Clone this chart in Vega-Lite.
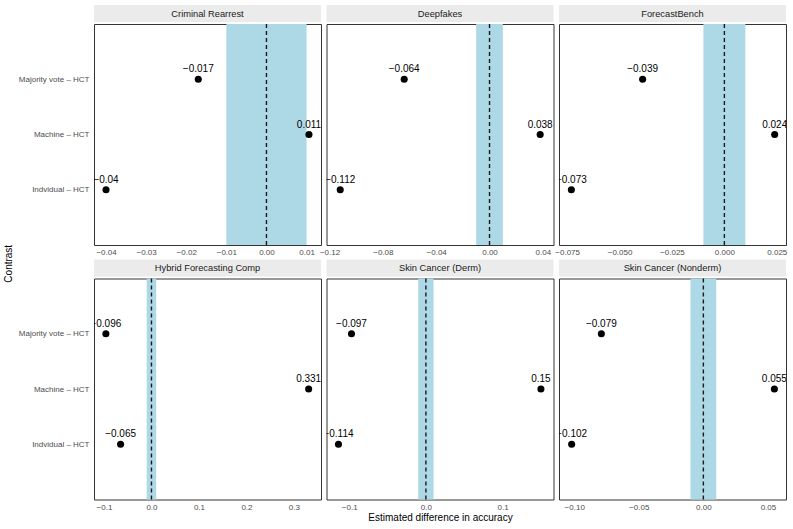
{
  "$schema": "https://vega.github.io/schema/vega-lite/v6.json",
  "padding": {"left": 3, "top": 5, "right": 5, "bottom": 5},
  "background": "white",
  "title": {"text": "Contrast", "orient": "left", "anchor": "middle", "fontSize": 10, "fontWeight": "normal", "color": "#000000", "offset": 4, "font": "Liberation Sans"},
  "spacing": 2.5,
  "datasets": {
    "points": [
      {"panel": "Criminal Rearrest", "contrast": "Majority vote – HCT", "estimate": -0.017},
      {"panel": "Criminal Rearrest", "contrast": "Machine – HCT", "estimate": 0.0106},
      {"panel": "Criminal Rearrest", "contrast": "Indvidual – HCT", "estimate": -0.04},
      {"panel": "Deepfakes", "contrast": "Majority vote – HCT", "estimate": -0.064},
      {"panel": "Deepfakes", "contrast": "Machine – HCT", "estimate": 0.038},
      {"panel": "Deepfakes", "contrast": "Indvidual – HCT", "estimate": -0.112},
      {"panel": "ForecastBench", "contrast": "Majority vote – HCT", "estimate": -0.039},
      {"panel": "ForecastBench", "contrast": "Machine – HCT", "estimate": 0.024},
      {"panel": "ForecastBench", "contrast": "Indvidual – HCT", "estimate": -0.073},
      {"panel": "Hybrid Forecasting Comp", "contrast": "Majority vote – HCT", "estimate": -0.096},
      {"panel": "Hybrid Forecasting Comp", "contrast": "Machine – HCT", "estimate": 0.331},
      {"panel": "Hybrid Forecasting Comp", "contrast": "Indvidual – HCT", "estimate": -0.065},
      {"panel": "Skin Cancer (Derm)", "contrast": "Majority vote – HCT", "estimate": -0.097},
      {"panel": "Skin Cancer (Derm)", "contrast": "Machine – HCT", "estimate": 0.15},
      {"panel": "Skin Cancer (Derm)", "contrast": "Indvidual – HCT", "estimate": -0.114},
      {"panel": "Skin Cancer (Nonderm)", "contrast": "Majority vote – HCT", "estimate": -0.079},
      {"panel": "Skin Cancer (Nonderm)", "contrast": "Machine – HCT", "estimate": 0.055},
      {"panel": "Skin Cancer (Nonderm)", "contrast": "Indvidual – HCT", "estimate": -0.102}
    ],
    "panels": [
      {"panel": "Criminal Rearrest", "lo": -0.01, "hi": 0.01, "zero": 0},
      {"panel": "Deepfakes", "lo": -0.01, "hi": 0.01, "zero": 0},
      {"panel": "ForecastBench", "lo": -0.01, "hi": 0.01, "zero": 0},
      {"panel": "Hybrid Forecasting Comp", "lo": -0.01, "hi": 0.01, "zero": 0},
      {"panel": "Skin Cancer (Derm)", "lo": -0.01, "hi": 0.01, "zero": 0},
      {"panel": "Skin Cancer (Nonderm)", "lo": -0.01, "hi": 0.01, "zero": 0}
    ]
  },
  "config": {
    "font": "Liberation Sans",
    "axis": {
      "labelFont": "Liberation Sans",
      "labelFontSize": 8,
      "labelColor": "#4D4D4D",
      "ticks": false,
      "domain": false,
      "grid": false,
      "labelFlush": false,
      "labelOverlap": false,
      "titleFont": "Liberation Sans",
      "titleFontSize": 10,
      "titleFontWeight": "normal",
      "titleColor": "#000000"
    },
    "axisX": {"labelPadding": 3.5},
    "axisY": {"labelPadding": 5}
  },
  "vconcat": [
    {
      "spacing": 0,
      "vconcat": [
        {
          "bounds": "flush",
          "spacing": 5.5,
          "hconcat": [
            {
              "width": 227, "height": 17,
              "view": {"fill": "#EBEBEB", "stroke": null},
              "data": {"name": "panels"},
              "transform": [{"filter": "datum.panel === 'Criminal Rearrest'"}],
              "mark": {"type": "text", "fontSize": 9.3, "color": "#1A1A1A"},
              "encoding": {"text": {"field": "panel", "type": "nominal"}}
            },
            {
              "width": 227, "height": 17,
              "view": {"fill": "#EBEBEB", "stroke": null},
              "data": {"name": "panels"},
              "transform": [{"filter": "datum.panel === 'Deepfakes'"}],
              "mark": {"type": "text", "fontSize": 9.3, "color": "#1A1A1A"},
              "encoding": {"text": {"field": "panel", "type": "nominal"}}
            },
            {
              "width": 227, "height": 17,
              "view": {"fill": "#EBEBEB", "stroke": null},
              "data": {"name": "panels"},
              "transform": [{"filter": "datum.panel === 'ForecastBench'"}],
              "mark": {"type": "text", "fontSize": 9.3, "color": "#1A1A1A"},
              "encoding": {"text": {"field": "panel", "type": "nominal"}}
            }
          ]
        },
        {
          "bounds": "flush",
          "spacing": 5.5,
          "hconcat": [
            {
              "width": 227, "height": 221,
              "view": {"stroke": "#333333", "strokeWidth": 1},
              "layer": [
                {
                  "data": {"name": "panels"},
                  "transform": [{"filter": "datum.panel === 'Criminal Rearrest'"}],
                  "mark": {"type": "rect", "color": "#ADD8E6"},
                  "encoding": {
                    "x": {"field": "lo", "type": "quantitative",
                      "scale": {"domain": [-0.043, 0.0136], "nice": false, "zero": false},
                      "axis": {"values": [-0.04, -0.03, -0.02, -0.01, 0, 0.01], "format": ".2f", "title": null}},
                    "x2": {"field": "hi"}
                  }
                },
                {
                  "data": {"name": "panels"},
                  "transform": [{"filter": "datum.panel === 'Criminal Rearrest'"}],
                  "mark": {"type": "rule", "strokeDash": [4, 3], "strokeWidth": 1.4, "color": "#1A1A1A"},
                  "encoding": {"x": {"field": "zero", "type": "quantitative"}}
                },
                {
                  "data": {"name": "points"},
                  "transform": [{"filter": "datum.panel === 'Criminal Rearrest'"}],
                  "mark": {"type": "point", "filled": true, "color": "#000000", "opacity": 1, "size": 50},
                  "encoding": {
                    "x": {"field": "estimate", "type": "quantitative"},
                    "y": {"field": "contrast", "type": "nominal",
                      "scale": {"type": "point", "padding": 1, "domain": ["Majority vote – HCT", "Machine – HCT", "Indvidual – HCT"]},
                      "axis": {"title": null}}
                  }
                },
                {
                  "data": {"name": "points"},
                  "transform": [{"filter": "datum.panel === 'Criminal Rearrest'"}],
                  "mark": {"type": "text", "fontSize": 10, "color": "#000000", "baseline": "alphabetic", "dy": -7, "clip": true},
                  "encoding": {
                    "x": {"field": "estimate", "type": "quantitative"},
                    "y": {"field": "contrast", "type": "nominal"},
                    "text": {"field": "estimate", "type": "quantitative", "format": ".3~f"}
                  }
                }
              ]
            },
            {
              "width": 227, "height": 221,
              "view": {"stroke": "#333333", "strokeWidth": 1},
              "layer": [
                {
                  "data": {"name": "panels"},
                  "transform": [{"filter": "datum.panel === 'Deepfakes'"}],
                  "mark": {"type": "rect", "color": "#ADD8E6"},
                  "encoding": {
                    "x": {"field": "lo", "type": "quantitative",
                      "scale": {"domain": [-0.1223, 0.048], "nice": false, "zero": false},
                      "axis": {"values": [-0.12, -0.08, -0.04, 0, 0.04], "format": ".2f", "title": null}},
                    "x2": {"field": "hi"}
                  }
                },
                {
                  "data": {"name": "panels"},
                  "transform": [{"filter": "datum.panel === 'Deepfakes'"}],
                  "mark": {"type": "rule", "strokeDash": [4, 3], "strokeWidth": 1.4, "color": "#1A1A1A"},
                  "encoding": {"x": {"field": "zero", "type": "quantitative"}}
                },
                {
                  "data": {"name": "points"},
                  "transform": [{"filter": "datum.panel === 'Deepfakes'"}],
                  "mark": {"type": "point", "filled": true, "color": "#000000", "opacity": 1, "size": 50},
                  "encoding": {
                    "x": {"field": "estimate", "type": "quantitative"},
                    "y": {"field": "contrast", "type": "nominal",
                      "scale": {"type": "point", "padding": 1, "domain": ["Majority vote – HCT", "Machine – HCT", "Indvidual – HCT"]},
                      "axis": null}
                  }
                },
                {
                  "data": {"name": "points"},
                  "transform": [{"filter": "datum.panel === 'Deepfakes'"}],
                  "mark": {"type": "text", "fontSize": 10, "color": "#000000", "baseline": "alphabetic", "dy": -7, "clip": true},
                  "encoding": {
                    "x": {"field": "estimate", "type": "quantitative"},
                    "y": {"field": "contrast", "type": "nominal"},
                    "text": {"field": "estimate", "type": "quantitative", "format": ".3~f"}
                  }
                }
              ]
            },
            {
              "width": 227, "height": 221,
              "view": {"stroke": "#333333", "strokeWidth": 1},
              "layer": [
                {
                  "data": {"name": "panels"},
                  "transform": [{"filter": "datum.panel === 'ForecastBench'"}],
                  "mark": {"type": "rect", "color": "#ADD8E6"},
                  "encoding": {
                    "x": {"field": "lo", "type": "quantitative",
                      "scale": {"domain": [-0.0789, 0.0294], "nice": false, "zero": false},
                      "axis": {"values": [-0.075, -0.05, -0.025, 0, 0.025], "format": ".3f", "title": null}},
                    "x2": {"field": "hi"}
                  }
                },
                {
                  "data": {"name": "panels"},
                  "transform": [{"filter": "datum.panel === 'ForecastBench'"}],
                  "mark": {"type": "rule", "strokeDash": [4, 3], "strokeWidth": 1.4, "color": "#1A1A1A"},
                  "encoding": {"x": {"field": "zero", "type": "quantitative"}}
                },
                {
                  "data": {"name": "points"},
                  "transform": [{"filter": "datum.panel === 'ForecastBench'"}],
                  "mark": {"type": "point", "filled": true, "color": "#000000", "opacity": 1, "size": 50},
                  "encoding": {
                    "x": {"field": "estimate", "type": "quantitative"},
                    "y": {"field": "contrast", "type": "nominal",
                      "scale": {"type": "point", "padding": 1, "domain": ["Majority vote – HCT", "Machine – HCT", "Indvidual – HCT"]},
                      "axis": null}
                  }
                },
                {
                  "data": {"name": "points"},
                  "transform": [{"filter": "datum.panel === 'ForecastBench'"}],
                  "mark": {"type": "text", "fontSize": 10, "color": "#000000", "baseline": "alphabetic", "dy": -7, "clip": true},
                  "encoding": {
                    "x": {"field": "estimate", "type": "quantitative"},
                    "y": {"field": "contrast", "type": "nominal"},
                    "text": {"field": "estimate", "type": "quantitative", "format": ".3~f"}
                  }
                }
              ]
            }
          ]
        }
      ]
    },
    {
      "spacing": 0,
      "vconcat": [
        {
          "bounds": "flush",
          "spacing": 5.5,
          "hconcat": [
            {
              "width": 227, "height": 17,
              "view": {"fill": "#EBEBEB", "stroke": null},
              "data": {"name": "panels"},
              "transform": [{"filter": "datum.panel === 'Hybrid Forecasting Comp'"}],
              "mark": {"type": "text", "fontSize": 9.3, "color": "#1A1A1A"},
              "encoding": {"text": {"field": "panel", "type": "nominal"}}
            },
            {
              "width": 227, "height": 17,
              "view": {"fill": "#EBEBEB", "stroke": null},
              "data": {"name": "panels"},
              "transform": [{"filter": "datum.panel === 'Skin Cancer (Derm)'"}],
              "mark": {"type": "text", "fontSize": 9.3, "color": "#1A1A1A"},
              "encoding": {"text": {"field": "panel", "type": "nominal"}}
            },
            {
              "width": 227, "height": 17,
              "view": {"fill": "#EBEBEB", "stroke": null},
              "data": {"name": "panels"},
              "transform": [{"filter": "datum.panel === 'Skin Cancer (Nonderm)'"}],
              "mark": {"type": "text", "fontSize": 9.3, "color": "#1A1A1A"},
              "encoding": {"text": {"field": "panel", "type": "nominal"}}
            }
          ]
        },
        {
          "bounds": "flush",
          "spacing": 5.5,
          "hconcat": [
            {
              "width": 227, "height": 221,
              "view": {"stroke": "#333333", "strokeWidth": 1},
              "layer": [
                {
                  "data": {"name": "panels"},
                  "transform": [{"filter": "datum.panel === 'Hybrid Forecasting Comp'"}],
                  "mark": {"type": "rect", "color": "#ADD8E6"},
                  "encoding": {
                    "x": {"field": "lo", "type": "quantitative",
                      "scale": {"domain": [-0.121, 0.357], "nice": false, "zero": false},
                      "axis": {"values": [-0.1, 0, 0.1, 0.2, 0.3], "format": ".1f", "title": null}},
                    "x2": {"field": "hi"}
                  }
                },
                {
                  "data": {"name": "panels"},
                  "transform": [{"filter": "datum.panel === 'Hybrid Forecasting Comp'"}],
                  "mark": {"type": "rule", "strokeDash": [4, 3], "strokeWidth": 1.4, "color": "#1A1A1A"},
                  "encoding": {"x": {"field": "zero", "type": "quantitative"}}
                },
                {
                  "data": {"name": "points"},
                  "transform": [{"filter": "datum.panel === 'Hybrid Forecasting Comp'"}],
                  "mark": {"type": "point", "filled": true, "color": "#000000", "opacity": 1, "size": 50},
                  "encoding": {
                    "x": {"field": "estimate", "type": "quantitative"},
                    "y": {"field": "contrast", "type": "nominal",
                      "scale": {"type": "point", "padding": 1, "domain": ["Majority vote – HCT", "Machine – HCT", "Indvidual – HCT"]},
                      "axis": {"title": null}}
                  }
                },
                {
                  "data": {"name": "points"},
                  "transform": [{"filter": "datum.panel === 'Hybrid Forecasting Comp'"}],
                  "mark": {"type": "text", "fontSize": 10, "color": "#000000", "baseline": "alphabetic", "dy": -7, "clip": true},
                  "encoding": {
                    "x": {"field": "estimate", "type": "quantitative"},
                    "y": {"field": "contrast", "type": "nominal"},
                    "text": {"field": "estimate", "type": "quantitative", "format": ".3~f"}
                  }
                }
              ]
            },
            {
              "width": 227, "height": 221,
              "view": {"stroke": "#333333", "strokeWidth": 1},
              "layer": [
                {
                  "data": {"name": "panels"},
                  "transform": [{"filter": "datum.panel === 'Skin Cancer (Derm)'"}],
                  "mark": {"type": "rect", "color": "#ADD8E6"},
                  "encoding": {
                    "x": {"field": "lo", "type": "quantitative",
                      "scale": {"domain": [-0.1296, 0.1664], "nice": false, "zero": false},
                      "axis": {"values": [-0.1, 0, 0.1], "format": ".1f", "title": "Estimated difference in accuracy", "titlePadding": 1}},
                    "x2": {"field": "hi"}
                  }
                },
                {
                  "data": {"name": "panels"},
                  "transform": [{"filter": "datum.panel === 'Skin Cancer (Derm)'"}],
                  "mark": {"type": "rule", "strokeDash": [4, 3], "strokeWidth": 1.4, "color": "#1A1A1A"},
                  "encoding": {"x": {"field": "zero", "type": "quantitative"}}
                },
                {
                  "data": {"name": "points"},
                  "transform": [{"filter": "datum.panel === 'Skin Cancer (Derm)'"}],
                  "mark": {"type": "point", "filled": true, "color": "#000000", "opacity": 1, "size": 50},
                  "encoding": {
                    "x": {"field": "estimate", "type": "quantitative"},
                    "y": {"field": "contrast", "type": "nominal",
                      "scale": {"type": "point", "padding": 1, "domain": ["Majority vote – HCT", "Machine – HCT", "Indvidual – HCT"]},
                      "axis": null}
                  }
                },
                {
                  "data": {"name": "points"},
                  "transform": [{"filter": "datum.panel === 'Skin Cancer (Derm)'"}],
                  "mark": {"type": "text", "fontSize": 10, "color": "#000000", "baseline": "alphabetic", "dy": -7, "clip": true},
                  "encoding": {
                    "x": {"field": "estimate", "type": "quantitative"},
                    "y": {"field": "contrast", "type": "nominal"},
                    "text": {"field": "estimate", "type": "quantitative", "format": ".3~f"}
                  }
                }
              ]
            },
            {
              "width": 227, "height": 221,
              "view": {"stroke": "#333333", "strokeWidth": 1},
              "layer": [
                {
                  "data": {"name": "panels"},
                  "transform": [{"filter": "datum.panel === 'Skin Cancer (Nonderm)'"}],
                  "mark": {"type": "rect", "color": "#ADD8E6"},
                  "encoding": {
                    "x": {"field": "lo", "type": "quantitative",
                      "scale": {"domain": [-0.1118, 0.064], "nice": false, "zero": false},
                      "axis": {"values": [-0.1, -0.05, 0, 0.05], "format": ".2f", "title": null}},
                    "x2": {"field": "hi"}
                  }
                },
                {
                  "data": {"name": "panels"},
                  "transform": [{"filter": "datum.panel === 'Skin Cancer (Nonderm)'"}],
                  "mark": {"type": "rule", "strokeDash": [4, 3], "strokeWidth": 1.4, "color": "#1A1A1A"},
                  "encoding": {"x": {"field": "zero", "type": "quantitative"}}
                },
                {
                  "data": {"name": "points"},
                  "transform": [{"filter": "datum.panel === 'Skin Cancer (Nonderm)'"}],
                  "mark": {"type": "point", "filled": true, "color": "#000000", "opacity": 1, "size": 50},
                  "encoding": {
                    "x": {"field": "estimate", "type": "quantitative"},
                    "y": {"field": "contrast", "type": "nominal",
                      "scale": {"type": "point", "padding": 1, "domain": ["Majority vote – HCT", "Machine – HCT", "Indvidual – HCT"]},
                      "axis": null}
                  }
                },
                {
                  "data": {"name": "points"},
                  "transform": [{"filter": "datum.panel === 'Skin Cancer (Nonderm)'"}],
                  "mark": {"type": "text", "fontSize": 10, "color": "#000000", "baseline": "alphabetic", "dy": -7, "clip": true},
                  "encoding": {
                    "x": {"field": "estimate", "type": "quantitative"},
                    "y": {"field": "contrast", "type": "nominal"},
                    "text": {"field": "estimate", "type": "quantitative", "format": ".3~f"}
                  }
                }
              ]
            }
          ]
        }
      ]
    }
  ]
}
